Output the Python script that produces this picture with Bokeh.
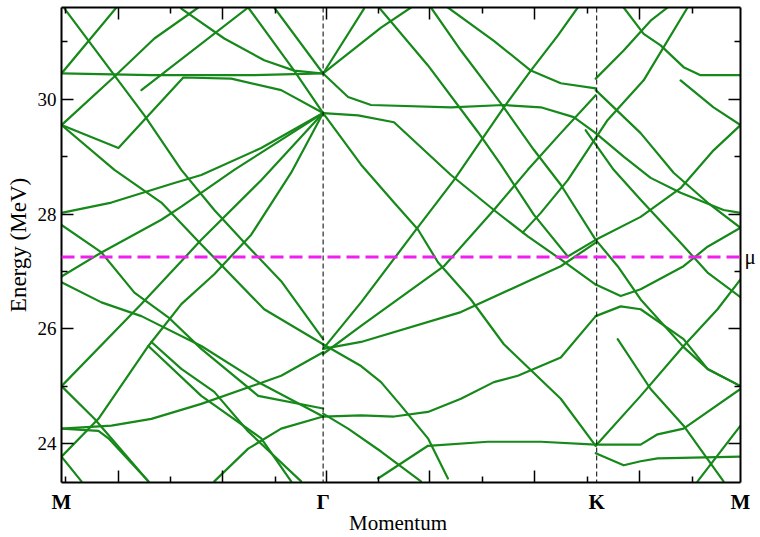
from bokeh.plotting import figure
from bokeh.models import (Range1d, LinearAxis, FixedTicker, Span, ColumnDataSource,
                          CustomLabelingPolicy)
from bokeh.embed import file_html
from bokeh.resources import INLINE

# path coordinate along M - Gamma - K - M
sym_k = [0, 262, 536, 680]
sym_labels = ["M", "Γ", "K", "M"]
mu = 27.25

x_major = [57, 161, 265, 369, 474, 579]
x_minor = [4, 109, 214, 317, 422, 527, 632]
y_major = [24, 26, 28, 30]
y_minor = [25, 27, 29, 31]

# bands on the M - Gamma segment
mg_k = [
    [0, 90, 190, 262],
    [0, 55],
    [0, 52, 93, 137],
    [3, 83, 120, 153, 187, 220, 262],
    [0, 57, 122, 170, 220, 262],
    [0, 53, 100, 140, 203, 262],
    [0, 40, 73, 107, 140, 197, 262],
    [0, 50, 113, 140, 200, 262],
    [0, 40, 100, 120, 173, 262],
    [0, 40, 80, 140, 200, 262],
    [0, 80, 140, 200, 262],
    [0, 33, 87],
    [0, 50, 90, 140, 220, 262],
    [0, 37, 47, 87],
    [0, 20],
    [0, 37, 87, 120, 153, 190, 230, 262],
    [87, 140, 200, 230],
    [90, 120, 153, 187, 240],
    [213, 262],
    [120, 163, 203, 233, 262],
    [80, 187],
    [187, 233, 262],
    [153, 187, 220, 262],
]
mg_e = [
    [30.45, 30.42, 30.42, 30.45],
    [30.45, 31.60],
    [29.55, 30.38, 31.06, 31.60],
    [31.58, 29.72, 28.77, 28.07, 27.43, 26.83, 25.82],
    [29.55, 29.15, 30.38, 30.36, 30.16, 29.76],
    [29.55, 28.77, 28.20, 27.47, 26.34, 25.73],
    [27.81, 27.33, 26.63, 26.20, 25.65, 24.83, 24.61],
    [28.02, 28.20, 28.54, 28.68, 29.15, 29.76],
    [26.91, 27.33, 27.90, 28.13, 28.77, 29.76],
    [26.81, 26.46, 26.22, 25.70, 25.04, 24.47],
    [25.00, 26.43, 27.55, 28.59, 29.76],
    [25.00, 24.43, 23.34],
    [24.26, 24.31, 24.43, 24.69, 25.18, 25.59],
    [24.26, 24.22, 24.09, 23.34],
    [23.77, 23.34],
    [23.77, 24.43, 25.70, 26.43, 26.95, 27.64, 28.72, 29.76],
    [25.70, 24.83, 24.09, 23.34],
    [25.77, 25.30, 24.90, 24.21, 23.34],
    [31.60, 30.45],
    [31.58, 31.06, 30.68, 30.50, 30.45],
    [30.16, 31.60],
    [31.60, 30.50, 29.76],
    [23.34, 23.91, 24.26, 24.47],
]

# bands on the Gamma - K segment
gk_k = [
    [262, 303],
    [262, 320, 350],
    [262, 287, 310, 390, 443, 480, 513, 535],
    [262, 297, 333, 390, 433, 467, 500, 535],
    [387, 433, 470, 500, 535],
    [262, 300, 353, 393, 443, 470, 497, 517],
    [370, 400, 440, 473, 500, 535],
    [318, 367, 417, 440, 473, 507, 535],
    [262, 300, 333, 357, 377, 410, 443, 500, 535],
    [262, 300, 383, 433, 467, 500, 535],
    [262, 300, 333, 367, 400, 433, 457, 500, 535],
    [317, 367, 427, 480, 535],
    [262, 300, 400, 500, 535],
    [262, 287, 320, 360],
    [262, 300, 320, 340, 367, 387],
]
gk_e = [
    [30.45, 31.58],
    [30.45, 31.25, 31.60],
    [30.45, 30.04, 29.90, 29.86, 29.90, 29.86, 29.69, 29.41],
    [29.76, 29.72, 29.60, 28.68, 28.07, 27.61, 27.21, 26.77],
    [31.60, 31.02, 30.50, 30.28, 30.19],
    [25.65, 26.46, 27.68, 28.59, 29.86, 30.50, 31.11, 31.60],
    [31.60, 30.85, 29.93, 29.12, 28.51, 27.55],
    [31.60, 30.59, 29.43, 28.86, 27.99, 27.26, 27.55],
    [29.76, 28.86, 28.20, 27.73, 27.16, 26.51, 25.73, 24.78, 23.96],
    [25.56, 26.05, 27.09, 28.07, 28.77, 29.41, 30.07],
    [24.47, 24.49, 24.47, 24.55, 24.78, 25.07, 25.18, 25.50, 26.22],
    [23.39, 23.96, 24.03, 24.03, 23.98],
    [25.65, 25.77, 26.29, 27.09, 27.50],
    [24.52, 24.26, 23.86, 23.34],
    [25.73, 25.35, 25.07, 24.66, 24.09, 23.39],
]

# bands on the K - M segment
km_k = [
    [535, 563, 590, 607],
    [535, 580, 613, 647, 680],
    [462, 480, 507, 547, 583, 627],
    [563, 583, 600, 623, 640, 680],
    [620, 653, 680],
    [535, 580, 620, 653, 680],
    [535, 560, 580, 623, 647, 680],
    [535, 580, 597, 623, 680],
    [535, 563, 580, 597, 680],
    [535, 580, 623, 657, 680],
    [557, 590, 623, 663],
    [637, 680],
    [525, 553, 580, 620, 647, 680],
    [535, 563, 590, 620, 663, 680],
    [535, 560, 580, 623, 647, 680],
    [535, 557, 580, 623, 647, 680],
]
km_e = [
    [30.36, 30.85, 31.37, 31.60],
    [30.16, 29.41, 28.72, 28.20, 27.76],
    [27.68, 28.02, 28.59, 29.64, 30.33, 31.60],
    [31.60, 31.14, 30.94, 30.56, 30.42, 30.42],
    [30.33, 29.86, 29.55],
    [27.55, 27.95, 28.45, 29.11, 29.55],
    [26.22, 26.39, 26.34, 25.82, 25.30, 25.00],
    [23.98, 23.98, 24.16, 24.26, 24.95],
    [23.83, 23.62, 23.69, 23.74, 23.77],
    [23.96, 24.83, 25.70, 26.34, 26.86],
    [25.82, 24.95, 24.31, 23.34],
    [23.34, 24.31],
    [29.46, 28.77, 28.25, 27.50, 26.98, 26.55],
    [29.41, 29.00, 28.63, 28.37, 28.07, 28.02],
    [26.77, 26.57, 26.69, 27.09, 27.43, 27.76],
    [27.55, 27.09, 26.51, 25.68, 25.30, 25.00],
]

SERIF = "Liberation Serif"
GREEN = "#16891a"

p = figure(width=760, height=537,
           x_range=Range1d(0, 680), y_range=Range1d(23.32, 31.6),
           output_backend="svg", toolbar_location=None,
           min_border_left=61, min_border_right=20,
           min_border_top=7, min_border_bottom=54)
p.xgrid.visible = False
p.ygrid.visible = False
p.outline_line_color = None
p.background_fill_color = "white"
p.border_fill_color = "white"

xs = mg_k + gk_k + km_k
ys = mg_e + gk_e + km_e
src = ColumnDataSource(data=dict(xs=xs, ys=ys))
p.multi_line("xs", "ys", source=src, line_color=GREEN, line_width=2.2,
             line_join="round", line_cap="round")

# symmetry-point markers and chemical potential
for k in sym_k[1:3]:
    p.add_layout(Span(location=k, dimension="height", line_color="black",
                      line_width=1, line_dash="5 3"))
p.add_layout(Span(location=mu, dimension="width", line_color="#f01ff0",
                  line_width=3, line_dash="13 6"))

# frame axes carry tick marks only; their labels are never drawn
no_labels = "for (const i of indices) { indices.unset(i) }\nreturn indices"


def style_ticks(ax, ticks, minor, labels_visible):
    ax.ticker = FixedTicker(ticks=ticks, minor_ticks=minor)
    ax.major_tick_in = 12
    ax.major_tick_out = 0
    ax.minor_tick_in = 6
    ax.minor_tick_out = 0
    ax.axis_line_width = 2
    ax.major_tick_line_width = 1.5
    ax.minor_tick_line_width = 1.5
    ax.axis_line_color = "black"
    ax.major_tick_line_color = "black"
    ax.minor_tick_line_color = "black"
    if not labels_visible:
        ax.major_label_policy = CustomLabelingPolicy(code=no_labels)
        ax.major_label_text_font_size = "1px"
        ax.major_label_standoff = -4


def label_axis(ticks, labels, size, style, standoff):
    # an axis that only writes text at the given positions
    return LinearAxis(ticker=FixedTicker(ticks=ticks, minor_ticks=[]),
                      major_label_overrides={t: s for t, s in zip(ticks, labels)},
                      major_label_text_font=SERIF,
                      major_label_text_font_size=size,
                      major_label_text_font_style=style,
                      major_label_text_color="black",
                      major_label_standoff=standoff,
                      axis_line_color=None,
                      major_tick_line_color=None,
                      minor_tick_line_color=None)


# left axis: energy
ly = p.yaxis[0]
style_ticks(ly, y_major, y_minor, True)
ly.major_label_text_font = SERIF
ly.major_label_text_font_size = "19px"
ly.major_label_text_color = "black"
ly.major_label_standoff = 5
ly.axis_label = "Energy (MeV)"
ly.axis_label_text_font = SERIF
ly.axis_label_text_font_size = "23px"
ly.axis_label_text_font_style = "normal"
ly.axis_label_text_color = "black"
ly.axis_label_standoff = 4

# bottom: tick marks, symmetry point names, axis title
bx = p.xaxis[0]
style_ticks(bx, x_major, x_minor, False)
p.add_layout(label_axis(sym_k, sym_labels, "21px", "bold", 1), "below")
p.add_layout(label_axis([337], ["Momentum"], "21px", "normal", -12), "below")

# mirrored frame axes
tx = LinearAxis()
style_ticks(tx, x_major, x_minor, False)
p.add_layout(tx, "above")
ry = LinearAxis()
style_ticks(ry, y_major, y_minor, False)
p.add_layout(ry, "right")

# chemical potential label on the right
p.add_layout(label_axis([mu], ["μ"], "21px", "normal", -2), "right")

open("out.html", "w").write(file_html(p, INLINE))
